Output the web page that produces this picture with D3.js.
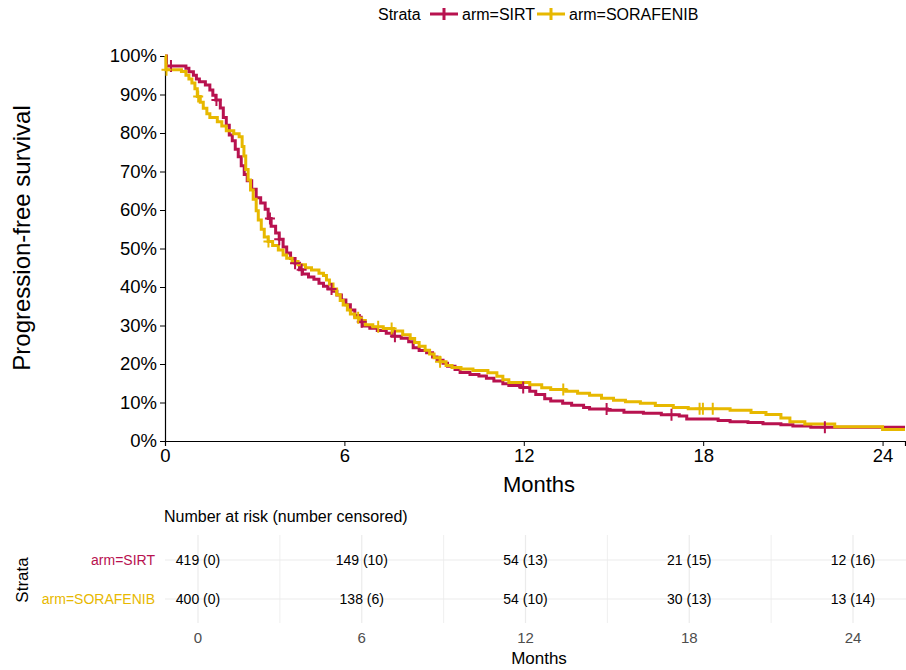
<!DOCTYPE html>
<html>
<head>
<meta charset="utf-8">
<script src="https://cdn.jsdelivr.net/npm/d3@7"></script>
<style>
  html, body { margin: 0; padding: 0; background: #fff; }
  svg { display: block; font-family: "Liberation Sans", Arial, sans-serif; }
</style>
</head>
<body>
<svg id="chart" width="906" height="670"></svg>
<script>
// Kaplan-Meier step estimates: event times (months) and survival (%)
const sirtTime = [0, 0.05, 0.7, 0.8, 0.95, 1.05, 1.15, 1.35, 1.5, 1.6, 1.7, 1.85, 1.95, 2.05, 2.15, 2.25, 2.35, 2.45, 2.55, 2.65, 2.75, 2.9, 3.05, 3.2, 3.35, 3.45, 3.55, 3.7, 3.82, 3.95, 4.07, 4.2, 4.35, 4.5, 4.6, 4.8, 4.98, 5.15, 5.3, 5.45, 5.6, 5.75, 5.9, 6.05, 6.2, 6.35, 6.5, 6.6, 6.85, 7.1, 7.4, 7.6, 7.9, 8.15, 8.3, 8.5, 8.75, 8.95, 9.1, 9.3, 9.45, 9.7, 9.87, 10.2, 10.5, 10.75, 11.0, 11.3, 11.5, 11.9, 12.2, 12.4, 12.7, 12.9, 13.3, 13.6, 14.0, 14.2, 14.8, 15.35, 16.0, 16.6, 17.2, 17.45, 18.5, 18.9, 19.5, 20.0, 20.6, 21.0, 21.6, 24.75];
const sirtSurv = [100, 97.4, 96.8, 95.9, 95.0, 94.0, 93.3, 92.5, 91.2, 89.8, 88.6, 86.5, 84.0, 82.0, 79.5, 78.0, 75.8, 73.8, 71.5, 69.2, 67.6, 65.4, 63.2, 61.8, 60.2, 57.8, 55.8, 54.0, 52.4, 50.4, 48.8, 47.4, 46.2, 44.5, 43.4, 42.6, 42.0, 41.0, 40.2, 39.5, 38.9, 37.9, 36.6, 35.4, 34.0, 32.6, 31.0, 29.9, 29.3, 28.7, 28.0, 27.2, 26.7, 25.8, 24.2, 23.5, 22.9, 21.8, 21.0, 20.2, 19.4, 18.6, 17.8, 17.3, 16.9, 16.3, 15.6, 14.9, 14.4, 13.9, 12.9, 12.1, 11.0, 10.4, 9.8, 9.3, 8.7, 8.3, 8.0, 7.5, 7.2, 6.8, 6.5, 5.7, 5.3, 5.0, 4.8, 4.5, 4.2, 3.9, 3.6, 3.6];
const sirtCensor = [0.2, 1.72, 3.51, 3.82, 4.35, 4.57, 5.57, 6.58, 7.69, 11.98, 14.77, 16.94, 22.07];

const soraTime = [0, 0.03, 0.55, 0.7, 0.8, 0.9, 1.0, 1.08, 1.18, 1.28, 1.4, 1.5, 1.75, 1.9, 2.05, 2.3, 2.48, 2.58, 2.64, 2.7, 2.78, 2.86, 2.95, 3.05, 3.12, 3.22, 3.32, 3.45, 3.6, 3.79, 3.95, 4.07, 4.25, 4.45, 4.7, 4.9, 5.15, 5.3, 5.4, 5.5, 5.62, 5.74, 5.86, 5.96, 6.1, 6.2, 6.35, 6.5, 6.7, 6.95, 7.3, 7.65, 7.95, 8.2, 8.35, 8.5, 8.7, 8.85, 9.0, 9.2, 9.4, 9.6, 9.9, 10.3, 10.8, 11.1, 11.3, 11.5, 12.2, 12.6, 12.9, 13.4, 13.8, 14.2, 14.6, 15.0, 15.4, 15.9, 16.4, 17.0, 17.5, 18.9, 19.6, 20.1, 20.6, 20.9, 21.4, 22.4, 24.0, 24.75];
const soraSurv = [100, 96.4, 96.0, 95.0, 94.0, 93.0, 91.5, 89.5, 88.0, 86.4, 85.0, 84.0, 82.9, 81.8, 80.6, 79.8, 79.0, 76.5, 74.0, 70.5, 67.8, 65.2, 62.8, 59.8, 57.4, 55.0, 53.0, 51.8, 50.8, 49.6, 48.3, 47.5, 46.6, 45.8, 45.0, 44.4, 43.6, 43.0, 41.8, 40.8, 39.5, 38.0, 36.5, 35.3, 34.0, 33.0, 32.0, 31.3, 30.2, 29.7, 29.2, 28.6, 27.6, 26.6, 25.6, 24.6, 23.6, 22.6, 21.6, 20.6, 19.6, 19.1, 18.7, 18.3, 17.7, 16.8, 15.9, 15.2, 14.6, 13.8, 13.4, 12.9, 12.4, 11.9, 11.1, 10.6, 10.2, 9.8, 9.2, 8.7, 8.4, 8.0, 7.4, 6.9, 6.0, 5.0, 4.4, 3.7, 3.0, 3.0];
const soraCensor = [0.05, 1.11, 3.46, 6.46, 7.13, 7.58, 9.2, 13.32, 17.88, 17.99, 18.32];

// Legend / strata names and colours
const strataNames = ["arm=SIRT", "arm=SORAFENIB"];
const strataColors = ["#B8124F", "#E7B800"];

// Axis ticks
const yTicks = [0, 0.1, 0.2, 0.3, 0.4, 0.5, 0.6, 0.7, 0.8, 0.9, 1.0];
const xTicks = [0, 6, 12, 18, 24];

// Risk table
const riskTimes = [0, 6, 12, 18, 24];
const sirtAtRisk = [419, 149, 54, 21, 12];
const sirtCensored = [0, 10, 13, 15, 16];
const soraAtRisk = [400, 138, 54, 30, 13];
const soraCensored = [0, 6, 10, 13, 14];
const riskGridTimes = [0, 3, 6, 9, 12, 15, 18, 21, 24];

const svg = d3.select("#chart");

const x = d3.scaleLinear().domain([0, 24.75]).range([165, 905]);
const y = d3.scaleLinear().domain([0, 1]).range([441, 56]);

const series = [
  { name: strataNames[0], color: strataColors[0], time: sirtTime, surv: sirtSurv, cens: sirtCensor },
  { name: strataNames[1], color: strataColors[1], time: soraTime, surv: soraSurv, cens: soraCensor }
];

// Survival at time t from the step function
function survAt(s, t) {
  let v = s.surv[0];
  for (let i = 0; i < s.time.length; i++) {
    if (s.time[i] <= t) v = s.surv[i]; else break;
  }
  return v;
}

// Axes
const yAxis = d3.axisLeft(y).tickValues(yTicks).tickFormat(d3.format(".0%")).tickSize(5).tickPadding(3);
const gy = svg.append("g").attr("transform", "translate(165,0)").call(yAxis);
gy.selectAll("text").attr("font-size", 18.5).attr("fill", "#000");
gy.selectAll("line").attr("stroke", "#000");
gy.select(".domain").attr("stroke", "#000").attr("stroke-width", 1.2);

const xAxis = d3.axisBottom(x).tickValues(xTicks).tickSize(5).tickPadding(3);
const gx = svg.append("g").attr("transform", "translate(0,441)").call(xAxis);
gx.selectAll("text").attr("font-size", 18.5).attr("fill", "#000");
gx.selectAll("line").attr("stroke", "#000");
gx.select(".domain").attr("stroke", "#000").attr("stroke-width", 1.2);

svg.append("text").attr("x", 539).attr("y", 492).attr("text-anchor", "middle")
  .attr("font-size", 22).attr("fill", "#000").text("Months");
svg.append("text").attr("transform", "translate(30,238) rotate(-90)").attr("text-anchor", "middle")
  .attr("font-size", 24).attr("fill", "#000").text("Progression-free survival");

// Curves
const line = d3.line().x(d => x(d[0])).y(d => y(d[1] / 100)).curve(d3.curveStepAfter);
const plot = svg.append("g");
series.forEach(s => {
  const pts = s.time.map((t, i) => [t, s.surv[i]]);
  plot.append("path").datum(pts).attr("d", line)
    .attr("fill", "none").attr("stroke", s.color).attr("stroke-width", 3);
});
series.forEach(s => {
  s.cens.forEach(t => {
    const cx = x(t), cy = y(survAt(s, t) / 100);
    plot.append("path").attr("d", `M${cx - 5},${cy}H${cx + 5}M${cx},${cy - 6}V${cy + 6}`)
      .attr("stroke", s.color).attr("stroke-width", 2).attr("fill", "none");
  });
});

// Legend
const lg = svg.append("g").attr("font-size", 16);
lg.append("text").attr("x", 378).attr("y", 20).attr("fill", "#000").text("Strata");
const legX = [430, 537];
series.forEach((s, i) => {
  const lx = legX[i];
  lg.append("path").attr("d", `M${lx},14H${lx + 28}M${lx + 14},8V20`)
    .attr("stroke", s.color).attr("stroke-width", 3);
  lg.append("text").attr("x", lx + 32).attr("y", 20).attr("fill", "#000").text(s.name);
});

// Number-at-risk table
const tx = d3.scaleLinear().domain([0, 24]).range([198, 853]);
const rowY = [560, 599];
const tbl = svg.append("g");
tbl.append("text").attr("x", 164).attr("y", 522).attr("font-size", 16).attr("fill", "#000")
  .text("Number at risk (number censored)");
riskGridTimes.forEach(t => {
  tbl.append("line").attr("x1", tx(t)).attr("x2", tx(t)).attr("y1", 535).attr("y2", 623)
    .attr("stroke", "#ebebeb").attr("stroke-width", t % 6 === 0 ? 1.2 : 0.8);
});
rowY.forEach(ry => {
  tbl.append("line").attr("x1", 165).attr("x2", 906).attr("y1", ry).attr("y2", ry)
    .attr("stroke", "#ebebeb").attr("stroke-width", 1.2);
});
const tableRows = [
  { atRisk: sirtAtRisk, cens: sirtCensored },
  { atRisk: soraAtRisk, cens: soraCensored }
];
tableRows.forEach((r, i) => {
  riskTimes.forEach((t, j) => {
    tbl.append("text").attr("x", tx(t)).attr("y", rowY[i] + 5).attr("text-anchor", "middle")
      .attr("font-size", 14).attr("fill", "#000").text(`${r.atRisk[j]} (${r.cens[j]})`);
  });
  tbl.append("text").attr("x", 155).attr("y", rowY[i] + 5).attr("text-anchor", "end")
    .attr("font-size", 14).attr("fill", strataColors[i]).text(strataNames[i]);
});
tbl.append("text").attr("transform", "translate(28,580) rotate(-90)").attr("text-anchor", "middle")
  .attr("font-size", 17).attr("fill", "#000").text("Strata");
riskTimes.forEach(t => {
  tbl.append("text").attr("x", tx(t)).attr("y", 643).attr("text-anchor", "middle")
    .attr("font-size", 15).attr("fill", "#4d4d4d").text(t);
});
tbl.append("text").attr("x", 539).attr("y", 664).attr("text-anchor", "middle")
  .attr("font-size", 17).attr("fill", "#000").text("Months");
</script>
</body>
</html>
